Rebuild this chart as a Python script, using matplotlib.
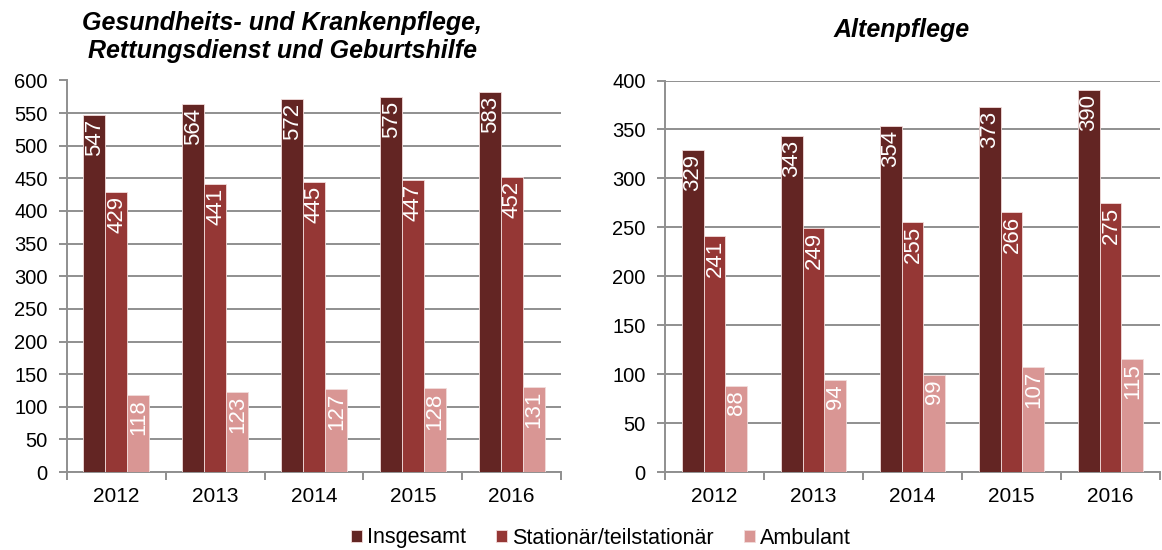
import matplotlib
matplotlib.use("Agg")
import matplotlib.pyplot as plt
import numpy as np

plt.rcParams['font.family'] = ['Liberation Sans', 'DejaVu Sans']

years = ["2012", "2013", "2014", "2015", "2016"]
series_names = ["Insgesamt", "Stationär/teilstationär", "Ambulant"]
colors = ["#632523", "#953735", "#D99694"]

left_title = "Gesundheits- und Krankenpflege,\nRettungsdienst und Geburtshilfe"
left_insgesamt = [547, 564, 572, 575, 583]
left_stationaer = [429, 441, 445, 447, 452]
left_ambulant = [118, 123, 127, 128, 131]

right_title = "Altenpflege"
right_insgesamt = [329, 343, 354, 373, 390]
right_stationaer = [241, 249, 255, 266, 275]
right_ambulant = [88, 94, 99, 107, 115]

W, H = 1162, 550
fig = plt.figure(figsize=(W / 100, H / 100), dpi=100)
ax1 = fig.add_axes([67 / W, 1 - 472 / H, 494 / W, 391.5 / H])
ax2 = fig.add_axes([665 / W, 1 - 472 / H, 495 / W, 391.5 / H])

grid_col = "#8f8f8f"

def draw(ax, data, ymax):
    x = np.arange(len(years))
    w = 0.222
    handles = []
    for i, (vals, c) in enumerate(zip(data, colors)):
        bars = ax.bar(x + (i - 1) * w, vals, w, color=c, edgecolor="#f2dcdb",
                      linewidth=0.6, zorder=3, label=series_names[i])
        handles.append(bars)
        for b, v in zip(bars, vals):
            ax.text(b.get_x() + b.get_width() / 2 + 0.005, v - ymax * 0.01, str(v),
                    rotation=90, ha="center", va="top", color="white",
                    fontsize=16, zorder=4)
    ax.set_xlim(-0.5, len(years) - 0.5)
    ax.set_ylim(0, ymax)
    ax.set_yticks(np.arange(0, ymax + 1, 50))
    ax.yaxis.grid(True, color=grid_col, linewidth=1.4, zorder=0)
    ax.set_axisbelow(True)
    ax.set_xticks(x)
    ax.set_xticklabels(years)
    ax.set_xticks(np.arange(-0.5, len(years), 1), minor=True)
    ax.tick_params(axis="x", which="major", length=0, labelsize=15, pad=11)
    ax.tick_params(axis="x", which="minor", length=6, color=grid_col, width=1.4)
    ax.tick_params(axis="y", length=6, color=grid_col, width=1.4, labelsize=14.5, pad=8)
    for s in ["top", "right"]:
        ax.spines[s].set_visible(False)
    for s in ["left", "bottom"]:
        ax.spines[s].set_color(grid_col)
        ax.spines[s].set_linewidth(1.4)
    return handles

h = draw(ax1, [left_insgesamt, left_stationaer, left_ambulant], 600)
draw(ax2, [right_insgesamt, right_stationaer, right_ambulant], 400)

fig.text(282 / W, 1 - 37 / H, left_title, ha="center", va="center", fontsize=18,
         fontweight="bold", fontstyle="italic", linespacing=1.25)
fig.text(902 / W, 1 - 30 / H, right_title, ha="center", va="center", fontsize=18,
         fontweight="bold", fontstyle="italic")

fig.legend(h, series_names, loc="center", bbox_to_anchor=(601 / W, 12 / H),
           ncol=3, frameon=False, fontsize=15.5, handlelength=0.5, handleheight=0.5,
           handletextpad=0.25, columnspacing=1.4, borderaxespad=0, borderpad=0)

fig.savefig("out.png", dpi=100)
